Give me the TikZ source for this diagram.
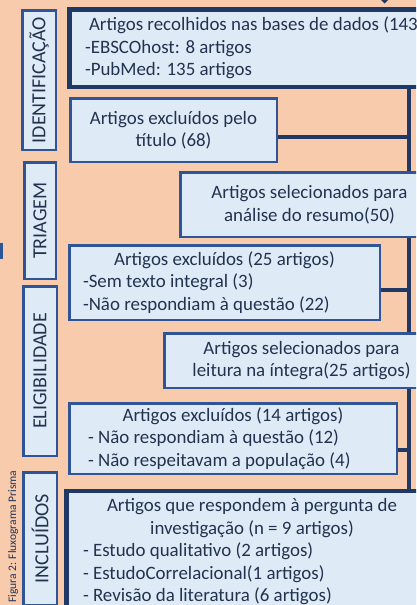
\documentclass[tikz,border=0pt]{standalone}
\usepackage{fontspec}
\setmainfont{Carlito}

\definecolor{peach}{HTML}{F8CBAD}
\definecolor{paleblue}{HTML}{DEEBF7}
\definecolor{navy}{HTML}{203864}
\definecolor{midblue}{HTML}{2F5597}
\definecolor{ink}{HTML}{22324F}

\begin{document}
\begin{tikzpicture}[
  x=1pt, y=-1pt,
  font=\fontsize{18.9}{22.5}\selectfont,
  text=ink,
  thinbox/.style={
    rectangle, draw=midblue, fill=paleblue, line width=2.5pt,
    inner sep=0pt,
  },
  thickbox/.style={thinbox, draw=navy, line width=4.5pt},
  stage/.style={thinbox, rotate=90, font=\fontsize{20}{24}\selectfont},
  caption/.style={rotate=90, inner sep=0pt, font=\fontsize{11.5}{13}\selectfont},
  link/.style={draw=navy, line width=4pt},
]

\useasboundingbox (0,0) rectangle (416,605);
\clip (0,0) rectangle (416,605);
\fill[peach] (0,0) rectangle (416,605);

% stages
\node[stage, minimum width=139.5pt, minimum height=33.5pt] (ident) at (39,80) {IDENTIFICAÇÃO};
\node[stage, minimum width=116.5pt, minimum height=31.5pt] (triag) at (40,220.5) {TRIAGEM};
\node[stage, minimum width=169.5pt, minimum height=33.5pt] (eleg) at (40,371) {ELIGIBILIDADE};
\node[stage, minimum width=132.5pt, minimum height=33.5pt] (incl) at (40,538.5) {INCLUÍDOS};
\node[caption, anchor=west] (cap) at (13,603) {Figura 2: Fluxograma Prisma};

% flow boxes
\node[thickbox, minimum width=368.5pt, minimum height=77.5pt] (top) at (253.5,48) {%
\begin{minipage}{337pt}\raggedright
  \hspace*{4pt}Artigos recolhidos nas bases de dados (143\\
  -EBSCOhost: 8 artigos\\
  -PubMed: 135 artigos
\end{minipage}};

\node[thinbox, align=center, minimum width=206.5pt, minimum height=63.5pt] (excl1) at (173.5,130)
  {Artigos excluídos pelo\\título (68)};

\node[thinbox, align=center, minimum width=258.5pt, minimum height=64.5pt] (sel1) at (309.5,204.5)
  {Artigos selecionados para\\análise do resumo(50)};

\node[thinbox, minimum width=310.5pt, minimum height=74.5pt] (excl2) at (224.5,282.5) {%
\begin{minipage}{283pt}
  \centering Artigos excluídos (25 artigos)\par
  \raggedright -Sem texto integral (3)\\
  -Não respondiam à questão (22)
\end{minipage}};

\node[thinbox, align=center, minimum width=274.5pt, minimum height=54.5pt] (sel2) at (301.5,360.5)
  {Artigos selecionados para\\leitura na íntegra(25 artigos)};

\node[thinbox, minimum width=327.5pt, minimum height=70.5pt] (excl3) at (233,438.5) {%
\begin{minipage}{290pt}
  \centering Artigos excluídos (14 artigos)\par
  \raggedright - Não respondiam à questão (12)\\
  - Não respeitavam a população (4)
\end{minipage}};

\node[thickbox, minimum width=371.5pt, minimum height=122.5pt] (final) at (252,552) {%
\begin{minipage}{338pt}
  \centering Artigos que respondem à pergunta de\\
  investigação (n = 9 artigos)\par
  \raggedright - Estudo qualitativo (2 artigos)\\
  - EstudoCorrelacional(1 artigos)\\
  - Revisão da literatura (6 artigos)
\end{minipage}};

% connectors
\coordinate (spine) at (408.5,0);
\draw[link] (top.south -| spine) -- (sel1.north -| spine);
\draw[link] (sel1.south -| spine) -- (sel2.north -| spine);
\draw[link] (sel2.south -| spine) -- (final.north -| spine);
\draw[link] ([yshift=-6.5pt]excl1.east) -- ([yshift=-6.5pt]excl1.east -| spine);
\draw[link] ([yshift=-7.5pt]excl2.east) -- ([yshift=-7.5pt]excl2.east -| spine);
\draw[link] ([yshift=-11.5pt]excl3.east) -- ([yshift=-11.5pt]excl3.east -| spine);

% cut-off pieces at the edges
\fill[navy] (381,0) -- (388,0) -- (384.5,3.5) -- cycle;
\fill[midblue] (0,243) rectangle (2.5,259);

\end{tikzpicture}
\end{document}
